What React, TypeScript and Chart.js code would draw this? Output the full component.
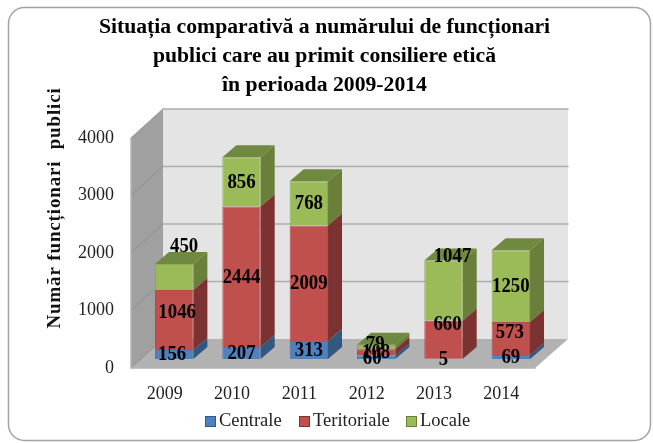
import React, { useEffect, useRef } from "react";
import { Chart, registerables } from "chart.js";

Chart.register(...registerables);

const years = ["2009", "2010", "2011", "2012", "2013", "2014"];
const centrale = [156, 207, 313, 60, 5, 69];
const teritoriale = [1046, 2444, 2009, 108, 660, 573];
const locale = [450, 856, 768, 79, 1047, 1250];
const seriesNames = ["Centrale", "Teritoriale", "Locale"];
const yTicks = [0, 1000, 2000, 3000, 4000];
const titleLines = [
  "Situația comparativă a numărului de funcționari",
  "publici care au primit consiliere etică",
  "în perioada 2009-2014",
];
const yTitle = "Număr funcționari  publici";

const FRONT = ["#4F81BD", "#C0504D", "#9BBB59"];
const EDGE = ["#4a79b0", "#b54b48", "#8cab4f"];
const SIDE = ["#33587f", "#7c3230", "#697f3a"];
const TOP = ["#3c6595", "#8d3a38", "#6f8a40"];
const SERIF = "'Liberation Serif', serif";

const WALL_DX = 32;
const WALL_DY = -29;
const BAR_SHIFT_X = 9.5;
const BAR_SHIFT_Y = -9;
const BAR_DX = 14;
const BAR_DY = -12;

// label nudges [series][category] => [dx, dy], the labels that sit off-centre in the reference
const nudges: Record<string, [number, number]> = {
  "0-0": [-2, 0],
  "1-0": [3, -8],
  "2-0": [10, -31],
  "0-3": [-4, 1],
  "2-3": [-1, -3],
  "1-4": [4, -16],
  "2-4": [9, -34],
  "1-5": [-1, -6],
};

function poly(ctx: CanvasRenderingContext2D, pts: number[][], fill: string) {
  ctx.beginPath();
  pts.forEach((p, i) => (i ? ctx.lineTo(p[0], p[1]) : ctx.moveTo(p[0], p[1])));
  ctx.closePath();
  ctx.fillStyle = fill;
  ctx.fill();
}

const scene = {
  id: "scene",
  beforeDraw(chart: any) {
    const { ctx, width, height } = chart;
    ctx.save();
    ctx.fillStyle = "#fff";
    ctx.fillRect(0, 0, width, height);
    ctx.beginPath();
    ctx.roundRect(8.5, 7.5, 642, 433, 16);
    ctx.strokeStyle = "#a3a3a3";
    ctx.lineWidth = 1.5;
    ctx.stroke();
    ctx.restore();
  },
  beforeDatasetsDraw(chart: any) {
    const { ctx, chartArea: a, scales } = chart;
    const y = scales.y;
    const bx = a.left + WALL_DX;
    const rx = a.right + WALL_DX + 1;
    const y0 = y.getPixelForValue(0);
    const yT = y.getPixelForValue(4000);
    ctx.save();
    poly(ctx, [[bx, yT + WALL_DY], [rx, yT + WALL_DY], [rx, y0 + WALL_DY], [bx, y0 + WALL_DY]], "#e4e4e4");
    poly(ctx, [[a.left, yT], [bx, yT + WALL_DY], [bx, y0 + WALL_DY], [a.left, y0]], "#a0a0a0");
    poly(ctx, [[a.left, y0], [a.right, y0], [rx, y0 + WALL_DY], [bx, y0 + WALL_DY]], "#b2b2b2");
    ctx.lineCap = "round";
    for (const t of yTicks) {
      const p = y.getPixelForValue(t);
      ctx.strokeStyle = "#adadad";
      ctx.lineWidth = 1.6;
      if (t > 0) {
        ctx.beginPath();
        ctx.moveTo(bx, p + WALL_DY);
        ctx.lineTo(rx, p + WALL_DY);
        ctx.stroke();
      }
      ctx.strokeStyle = "#8f8f8f";
      ctx.lineWidth = 1;
      ctx.beginPath();
      ctx.moveTo(a.left, p);
      ctx.lineTo(bx, p + WALL_DY);
      ctx.stroke();
    }
    ctx.strokeStyle = "#b5b5b5";
    ctx.lineWidth = 1.5;
    ctx.beginPath();
    ctx.moveTo(a.left, yT);
    ctx.lineTo(a.left, y0);
    ctx.lineTo(a.right, y0);
    ctx.stroke();
    ctx.restore();
  },
  beforeDatasetDraw(chart: any, args: any) {
    const { ctx } = chart;
    const i = args.index;
    ctx.save();
    ctx.translate(BAR_SHIFT_X, BAR_SHIFT_Y);
    const last = chart.data.datasets.length - 1;
    args.meta.data.forEach((bar: any) => {
      const p = bar.getProps(["x", "y", "base", "width"], true);
      const l = p.x - p.width / 2;
      const r = p.x + p.width / 2;
      poly(ctx, [[r, p.y], [r + BAR_DX, p.y + BAR_DY], [r + BAR_DX, p.base + BAR_DY], [r, p.base]], SIDE[i]);
      if (i === last) {
        poly(ctx, [[l, p.y], [r, p.y], [r + BAR_DX, p.y + BAR_DY], [l + BAR_DX, p.y + BAR_DY]], TOP[i]);
      }
    });
  },
  afterDatasetDraw(chart: any) {
    chart.ctx.restore();
  },
  afterDatasetsDraw(chart: any) {
    const { ctx } = chart;
    ctx.save();
    ctx.textAlign = "center";
    ctx.textBaseline = "middle";
    ctx.font = `bold 20px ${SERIF}`;
    ctx.fillStyle = "#000";
    chart.data.datasets.forEach((ds: any, i: number) => {
      chart.getDatasetMeta(i).data.forEach((bar: any, j: number) => {
        const p = bar.getProps(["x", "y", "base"], true);
        const n = nudges[`${i}-${j}`] || [0, 0];
        ctx.save();
        ctx.translate(p.x + BAR_SHIFT_X + n[0], (p.y + p.base) / 2 + BAR_SHIFT_Y + n[1] + 0.5);
        ctx.scale(0.94, 1.03);
        ctx.fillText(String(ds.data[j]), 0, 0);
        ctx.restore();
      });
    });
    ctx.save();
    ctx.translate(55, 208);
    ctx.rotate(-Math.PI / 2);
    ctx.font = `bold 19px ${SERIF}`;
    ctx.fillStyle = "#111";
    (ctx as any).letterSpacing = "0.85px";
    ctx.fillText(yTitle, 0, 0);
    ctx.restore();
    ctx.font = `18.5px ${SERIF}`;
    ctx.textAlign = "left";
    const boxes = [205, 299, 406];
    seriesNames.forEach((name, i) => {
      ctx.fillStyle = FRONT[i];
      ctx.fillRect(boxes[i], 416, 11, 11);
      ctx.strokeStyle = SIDE[i];
      ctx.lineWidth = 1;
      ctx.strokeRect(boxes[i] + 0.5, 416.5, 10, 10);
      ctx.fillStyle = "#222";
      ctx.fillText(name, boxes[i] + 14, 421);
    });
    ctx.restore();
  },
};

export default function App() {
  const ref = useRef<HTMLCanvasElement>(null);
  useEffect(() => {
    const data = [centrale, teritoriale, locale];
    const chart = new Chart(ref.current!, {
      type: "bar",
      data: {
        labels: years,
        datasets: data.map((values, i) => ({
          label: seriesNames[i],
          data: values,
          backgroundColor: FRONT[i],
          borderColor: EDGE[i],
          borderWidth: 1,
          categoryPercentage: 1,
          barPercentage: 0.57,
          clip: false as any,
          yAxisID: "y",
        })),
      },
      plugins: [scene],
      options: {
        responsive: false,
        animation: false,
        layout: { padding: { left: 0, right: 4, top: 0, bottom: 0 } },
        plugins: {
          legend: { display: false },
          tooltip: { enabled: false },
          title: {
            display: true,
            text: titleLines,
            color: "#000",
            font: { family: SERIF, size: 21.7, weight: "bold", lineHeight: 1.336 },
            padding: { top: 12.5, bottom: 38.5 },
          },
        },
        scales: {
          x: {
            stacked: true,
            grid: { display: false, drawTicks: false },
            border: { display: false },
            ticks: {
              color: "#222",
              font: { family: SERIF, size: 18 },
              padding: 15,
              maxRotation: 0,
              autoSkip: false,
            },
            afterFit(s: any) {
              s.height = 75;
            },
          },
          y: {
            stacked: true,
            min: 0,
            max: 4000,
            grid: { display: false, drawTicks: false },
            border: { display: false },
            ticks: {
              color: "#222",
              font: { family: SERIF, size: 18 },
              padding: 17,
              stepSize: 1000,
              callback: (v: any) => String(v),
            },
            afterFit(s: any) {
              s.width = 131;
            },
          },
          spacer: {
            type: "linear",
            position: "right",
            min: 0,
            max: 4000,
            grid: { display: false, drawTicks: false },
            border: { display: false },
            ticks: { display: false },
            afterFit(s: any) {
              s.width = 114;
            },
          },
        },
      },
    });
    return () => chart.destroy();
  }, []);
  return (
    <div style={{ position: "fixed", left: 0, top: 0, width: 653, height: 443 }}>
      <canvas ref={ref} width={653} height={443} style={{ display: "block" }} />
    </div>
  );
}
